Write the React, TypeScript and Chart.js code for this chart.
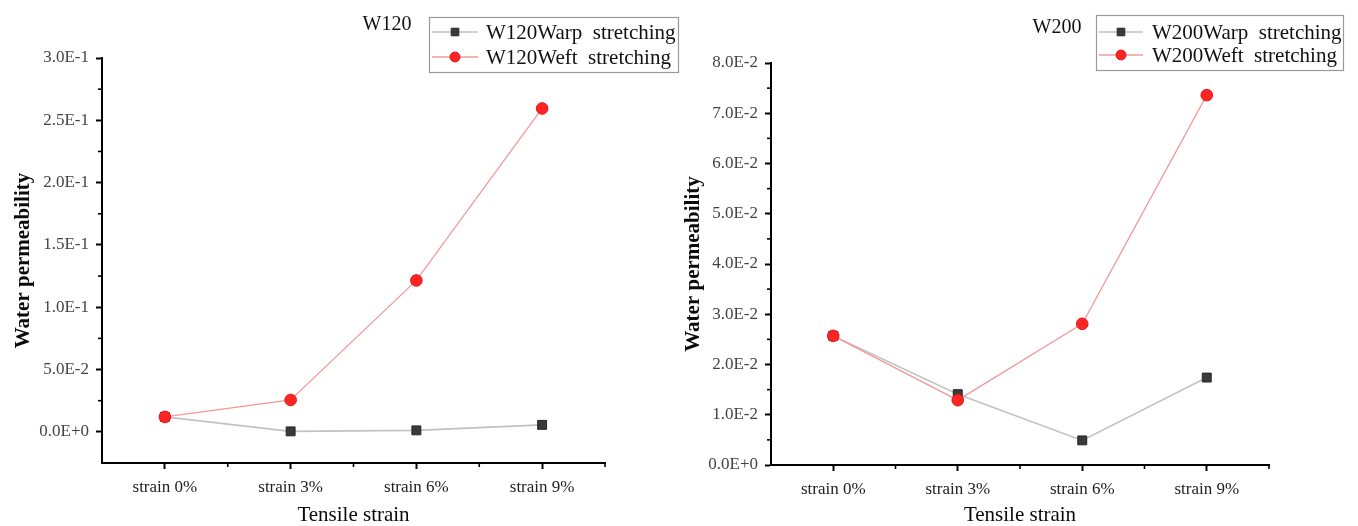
import React, { useEffect, useRef } from 'react';
import { Chart, registerables } from 'chart.js';

Chart.register(...registerables);

// ---------- data ----------
const categories = ['strain 0%', 'strain 3%', 'strain 6%', 'strain 9%'];

const w120Warp = [0.012, 0.0004, 0.0012, 0.0056];
const w120Weft = [0.012, 0.0256, 0.1215, 0.2595];
const w200Warp = [0.0257, 0.0141, 0.0049, 0.0174];
const w200Weft = [0.0257, 0.0129, 0.0281, 0.0736];

const w120TickValues = [0, 0.05, 0.1, 0.15, 0.2, 0.25, 0.3];
const w120TickLabels = ['0.0E+0', '5.0E-2', '1.0E-1', '1.5E-1', '2.0E-1', '2.5E-1', '3.0E-1'];
const w200TickValues = [0, 0.01, 0.02, 0.03, 0.04, 0.05, 0.06, 0.07, 0.08];
const w200TickLabels = ['0.0E+0', '1.0E-2', '2.0E-2', '3.0E-2', '4.0E-2', '5.0E-2', '6.0E-2', '7.0E-2', '8.0E-2'];

const SERIF = "'Liberation Serif', 'Times New Roman', serif";

type PanelCfg = {
  title: string;
  warpLabel: string;
  weftLabel: string;
  warp: number[];
  weft: number[];
  yMin: number;
  yMax: number;
  tickValues: number[];
  tickLabels: string[];
  width: number;
  padTop: number;
  padRight: number;
  yWidth: number;
  xHeight: number;
  yTitlePad: number;
  titleX: number;
  titleY: number;
  legend: { x: number; y: number; w: number; h: number; row1: number; row2: number; lineX0: number; lineX1: number; textX: number };
};

const panels: PanelCfg[] = [
  {
    title: 'W120',
    warpLabel: 'W120Warp stretching',
    weftLabel: 'W120Weft stretching',
    warp: w120Warp,
    weft: w120Weft,
    yMin: -0.025,
    yMax: 0.3,
    tickValues: w120TickValues,
    tickLabels: w120TickLabels,
    width: 680,
    padTop: 58,
    padRight: 75,
    yWidth: 102,
    xHeight: 63,
    yTitlePad: 13,
    titleX: 387,
    titleY: 25,
    legend: { x: 429, y: 17, w: 249, h: 55, row1: 32, row2: 57, lineX0: 432, lineX1: 478, textX: 486 },
  },
  {
    title: 'W200',
    warpLabel: 'W200Warp stretching',
    weftLabel: 'W200Weft stretching',
    warp: w200Warp,
    weft: w200Weft,
    yMin: 0,
    yMax: 0.08,
    tickValues: w200TickValues,
    tickLabels: w200TickLabels,
    width: 678,
    padTop: 63,
    padRight: 89,
    yWidth: 91,
    xHeight: 61,
    yTitlePad: 3,
    titleX: 377,
    titleY: 28,
    legend: { x: 416, y: 15, w: 247, h: 55, row1: 32, row2: 55, lineX0: 419, lineX1: 463, textX: 472 },
  },
];

function drawMarker(ctx: CanvasRenderingContext2D, ds: any, x: number, y: number) {
  ctx.save();
  ctx.fillStyle = ds.pointBackgroundColor;
  ctx.strokeStyle = ds.pointBorderColor;
  ctx.lineWidth = 1;
  ctx.beginPath();
  if (ds.pointStyle === 'rect') {
    const s = ds.pointRadius * Math.SQRT1_2 * 0.85;
    ctx.rect(x - s, y - s, 2 * s, 2 * s);
  } else {
    ctx.arc(x, y, ds.pointRadius * 0.85, 0, Math.PI * 2);
  }
  ctx.fill();
  ctx.stroke();
  ctx.restore();
}

function ChartPanel({ cfg }: { cfg: PanelCfg }) {
  const ref = useRef<HTMLCanvasElement>(null);

  useEffect(() => {
    const canvas = ref.current;
    if (!canvas) return;

    const extras = {
      id: 'extras',
      afterDraw(chart: any) {
        const ctx: CanvasRenderingContext2D = chart.ctx;
        const ys = chart.scales.y;
        const area = chart.chartArea;
        ctx.save();
        ctx.strokeStyle = '#000';
        ctx.lineWidth = 1.6;
        // minor y ticks
        const tv = cfg.tickValues;
        for (let i = 0; i < tv.length - 1; i++) {
          const py = ys.getPixelForValue((tv[i] + tv[i + 1]) / 2);
          ctx.beginPath();
          ctx.moveTo(area.left - 4, py);
          ctx.lineTo(area.left, py);
          ctx.stroke();
        }
        // category boundary ticks on x
        const n = categories.length;
        const step = (area.right - area.left) / n;
        for (let i = 1; i <= n; i++) {
          const px = area.left + i * step;
          ctx.beginPath();
          ctx.moveTo(px, area.bottom);
          ctx.lineTo(px, area.bottom + 4);
          ctx.stroke();
        }
        ctx.restore();

        // panel title
        ctx.save();
        ctx.font = `20px ${SERIF}`;
        ctx.fillStyle = '#111';
        ctx.textAlign = 'center';
        ctx.textBaseline = 'middle';
        ctx.fillText(cfg.title, cfg.titleX, cfg.titleY);
        ctx.restore();

        // legend
        const L = cfg.legend;
        ctx.save();
        ctx.fillStyle = '#fff';
        ctx.fillRect(L.x, L.y, L.w, L.h);
        ctx.strokeStyle = '#9a9a9a';
        ctx.lineWidth = 1.2;
        ctx.strokeRect(L.x + 0.5, L.y + 0.5, L.w, L.h);
        const rows = [L.row1, L.row2];
        chart.data.datasets.forEach((ds: any, i: number) => {
          const ry = rows[i];
          ctx.strokeStyle = ds.borderColor;
          ctx.lineWidth = ds.borderWidth;
          ctx.beginPath();
          ctx.moveTo(L.lineX0, ry);
          ctx.lineTo(L.lineX1, ry);
          ctx.stroke();
          drawMarker(ctx, ds, (L.lineX0 + L.lineX1) / 2, ry);
          ctx.font = `21px ${SERIF}`;
          ctx.fillStyle = '#111';
          ctx.textAlign = 'left';
          ctx.textBaseline = 'middle';
          ctx.fillText(String(ds.label).replace(' ', '  '), L.textX, ry + 1);
        });
        ctx.restore();
      },
    };

    const chart = new Chart(canvas, {
      type: 'line',
      data: {
        labels: categories,
        datasets: [
          {
            label: cfg.warpLabel,
            data: cfg.warp,
            order: 1,
            borderColor: '#c2c2c2',
            borderWidth: 1.6,
            pointStyle: 'rect',
            pointRadius: 6.3,
            pointBackgroundColor: '#3a3a3a',
            pointBorderColor: '#262626',
            pointBorderWidth: 1,
            tension: 0,
          },
          {
            label: cfg.weftLabel,
            data: cfg.weft,
            order: 0,
            borderColor: '#f29a9a',
            borderWidth: 1.3,
            pointStyle: 'circle',
            pointRadius: 5.8,
            pointBackgroundColor: '#ff2525',
            pointBorderColor: '#e41414',
            pointBorderWidth: 1,
            tension: 0,
          },
        ],
      },
      options: {
        animation: false,
        responsive: false,
        maintainAspectRatio: false,
        events: [],
        layout: { padding: { top: cfg.padTop, right: cfg.padRight, left: 0, bottom: 0 } },
        plugins: { legend: { display: false }, tooltip: { enabled: false }, title: { display: false } },
        scales: {
          x: {
            type: 'category',
            offset: true,
            afterFit: (s: any) => {
              s.height = cfg.xHeight;
            },
            grid: {
              display: true,
              drawOnChartArea: false,
              drawTicks: true,
              tickLength: 6,
              tickWidth: 2,
              tickColor: '#000',
              color: '#000',
            },
            border: { display: true, color: '#000', width: 2 },
            ticks: {
              autoSkip: false,
              maxRotation: 0,
              padding: 8,
              color: '#222',
              font: { family: SERIF, size: 17 },
            },
            title: {
              display: true,
              text: 'Tensile strain',
              color: '#0a0a0a',
              font: { family: SERIF, size: 21, lineHeight: 1 },
              padding: { top: 0, bottom: 0 },
            },
          },
          y: {
            type: 'linear',
            min: cfg.yMin,
            max: cfg.yMax,
            afterFit: (s: any) => {
              s.width = cfg.yWidth;
            },
            afterBuildTicks: (s: any) => {
              s.ticks = cfg.tickValues.map((v) => ({ value: v }));
            },
            grid: {
              display: true,
              drawOnChartArea: false,
              drawTicks: true,
              tickLength: 6,
              tickWidth: 2,
              tickColor: '#000',
              color: '#000',
            },
            border: { display: true, color: '#000', width: 2 },
            ticks: {
              padding: 7,
              color: '#444',
              font: { family: SERIF, size: 17 },
              callback: (_v: any, i: number) => cfg.tickLabels[i],
            },
            title: {
              display: true,
              text: 'Water permeability',
              color: '#0a0a0a',
              font: { family: SERIF, size: 21, weight: 'bold', lineHeight: 1 },
              padding: { top: cfg.yTitlePad, bottom: 0 },
            },
          },
        },
      },
      plugins: [extras],
    } as any);

    return () => chart.destroy();
  }, [cfg]);

  return (
    <canvas
      ref={ref}
      width={cfg.width}
      height={526}
      style={{ display: 'block', width: cfg.width, height: 526 }}
    />
  );
}

export default function App() {
  return (
    <div
      style={{
        position: 'absolute',
        left: 0,
        top: 0,
        width: 1358,
        height: 526,
        background: '#fff',
        display: 'flex',
        flexDirection: 'row',
      }}
    >
      {panels.map((p) => (
        <ChartPanel key={p.title} cfg={p} />
      ))}
    </div>
  );
}
